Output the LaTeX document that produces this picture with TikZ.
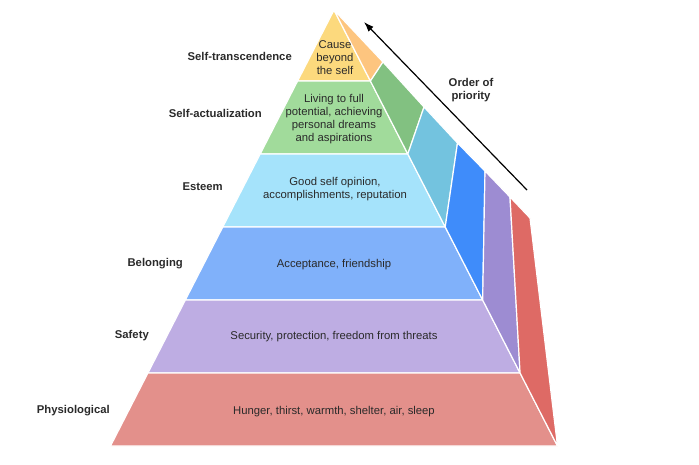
\documentclass[tikz,border=0pt]{standalone}
\usepackage{fontspec}
\setmainfont{Liberation Sans}
\usepackage{tikz}
\usetikzlibrary{arrows.meta}

\definecolor{frontA}{HTML}{FCD97D}
\definecolor{frontB}{HTML}{A1DB9B}
\definecolor{frontC}{HTML}{A5E3FB}
\definecolor{frontD}{HTML}{80B1FA}
\definecolor{frontE}{HTML}{BEADE3}
\definecolor{frontF}{HTML}{E3908B}
\definecolor{sideA}{HTML}{FDC57F}
\definecolor{sideB}{HTML}{82C181}
\definecolor{sideC}{HTML}{73C3DF}
\definecolor{sideD}{HTML}{3F8CFA}
\definecolor{sideE}{HTML}{9D8CD2}
\definecolor{sideF}{HTML}{DE6A65}
\definecolor{textgray}{HTML}{2A2A2A}

\tikzset{
  face/.style={draw=white, line width=1.2pt, line join=round},
  inner text/.style={align=center, text=textgray, font=\fontsize{11.3}{13}\selectfont},
  level label/.style={anchor=east, inner sep=0pt, text=textgray, font=\fontsize{11.3}{13}\selectfont\bfseries},
}

\begin{document}
\begin{tikzpicture}[x=1pt, y=-1pt, >={Latex[length=10pt, width=7pt]}]
\useasboundingbox (0,0) rectangle (699,464);
%corners of the front faces (right edge)
\foreach \i/\y in {1/10, 2/81, 3/154, 4/227, 5/300, 6/373, 7/446}
{
  \coordinate (F\i) at ({334+0.5126*(\y-10)}, \y);
}
%corners on the back edge
\coordinate (P1) at (334, 10);
\coordinate (P2) at (383, 62);
\coordinate (P3) at (424, 107);
\coordinate (P4) at (457.5, 143);
\coordinate (P5) at (485, 171);
\coordinate (P6) at (510, 197);
\coordinate (P7) at (530, 218);
%front faces
\foreach \ya/\yb/\col in {10/81/frontA, 81/154/frontB, 154/227/frontC, 227/300/frontD, 300/373/frontE, 373/446/frontF}
{
  \filldraw[face, fill=\col] ({334-0.5126*(\ya-10)}, \ya) -- ({334+0.5126*(\ya-10)}, \ya)
    -- ({334+0.5126*(\yb-10)}, \yb) -- ({334-0.5126*(\yb-10)}, \yb) -- cycle;
}
%side faces
\foreach \i/\j/\col in {1/2/sideA, 2/3/sideB, 3/4/sideC, 4/5/sideD, 5/6/sideE, 6/7/sideF}
{
  \filldraw[face, fill=\col] (F\i) -- (P\i) -- (P\j) -- (F\j) -- cycle;
}
%texts in the levels
\node[inner text] (need-transc) at (335, 58) {Cause\\beyond\\the self};
\node[inner text] (need-actual) at (334, 119) {Living to full\\potential, achieving\\personal dreams\\and aspirations};
\node[inner text] (need-esteem) at (335, 189) {Good self opinion,\\accomplishments, reputation};
\node[inner text] (need-belong) at (334, 265) {Acceptance, friendship};
\node[inner text] (need-safety) at (334, 337) {Security, protection, freedom from threats};
\node[inner text] (need-physio) at (334, 412) {Hunger, thirst, warmth, shelter, air, sleep};
%level names
\node[level label] (lbl-transc) at (292, 56) {Self-transcendence};
\node[level label] (lbl-actual) at (262, 113) {Self-actualization};
\node[level label] (lbl-esteem) at (223, 187) {Esteem};
\node[level label] (lbl-belong) at (183, 264) {Belonging};
\node[level label] (lbl-safety) at (149, 336) {Safety};
\node[level label] (lbl-physio) at (110, 411) {Physiological};
%priority arrow
\coordinate (prio-start) at (527, 190);
\coordinate (prio-end) at (364, 22);
\draw[->, line width=1.2pt] (prio-start) -- (prio-end);
\node[inner text, font=\fontsize{11.3}{13}\selectfont\bfseries] (prio-text) at (471, 90) {Order of\\priority};
\end{tikzpicture}
\end{document}
